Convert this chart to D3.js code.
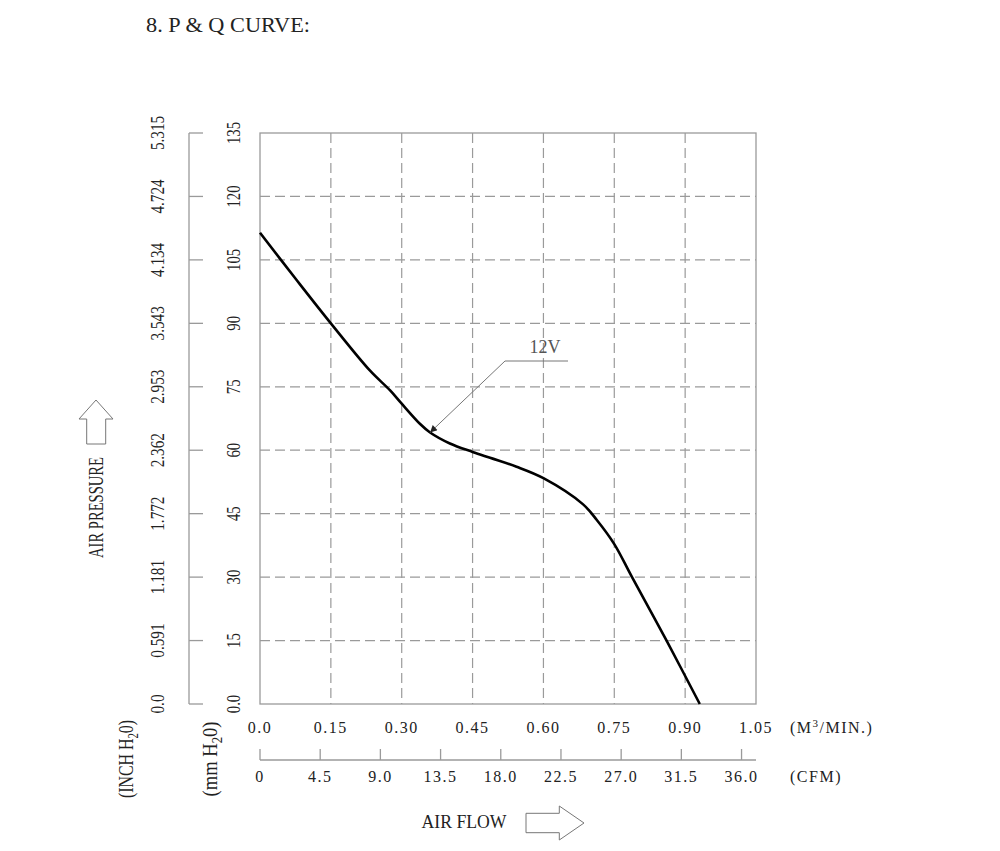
<!DOCTYPE html>
<html>
<head>
<meta charset="utf-8">
<script src="https://cdn.jsdelivr.net/npm/d3@7"></script>
<style>
  html, body { margin: 0; padding: 0; background: #fff; }
  svg { display: block; }
  text { font-family: "Liberation Serif", "DejaVu Serif", serif; fill: #222; }
</style>
</head>
<body>
<svg id="chart" width="1000" height="851"></svg>
<script>
// ---- data ----
const flowM3 = [0, 0.075, 0.15, 0.233, 0.275, 0.30, 0.339, 0.36, 0.402, 0.45, 0.487, 0.543, 0.60, 0.684, 0.713, 0.75, 0.787, 0.861, 0.931];
const pressureMm = [111.4, 100.6, 90, 78.8, 74.2, 71.0, 66.2, 64.2, 61.6, 59.6, 58.2, 56.1, 53.4, 47.2, 43.5, 37.8, 30.1, 14.9, 0];
const mmTicks = [0, 15, 30, 45, 60, 75, 90, 105, 120, 135];
const mmLabels = ["0.0", "15", "30", "45", "60", "75", "90", "105", "120", "135"];
const inchLabels = ["0.0", "0.591", "1.181", "1.772", "2.362", "2.953", "3.543", "4.134", "4.724", "5.315"];
const m3Ticks = [0, 0.15, 0.30, 0.45, 0.60, 0.75, 0.90, 1.05];
const m3Labels = ["0.0", "0.15", "0.30", "0.45", "0.60", "0.75", "0.90", "1.05"];
const cfmTicks = [0, 4.5, 9.0, 13.5, 18.0, 22.5, 27.0, 31.5, 36.0];
const cfmLabels = ["0", "4.5", "9.0", "13.5", "18.0", "22.5", "27.0", "31.5", "36.0"];
const seriesName = "12V";
const titleText = "8. P & Q CURVE:";

// ---- scales ----
const svg = d3.select("#chart");
const x = d3.scaleLinear().domain([0, 1.05]).range([260, 756]);
const y = d3.scaleLinear().domain([0, 135]).range([704, 133]);
const cfm = d3.scaleLinear().domain([0, 1.05 * 35.3147]).range([260, 756]);
const gridCol = "#9a9a9a";

// title
svg.append("text").attr("x", 146).attr("y", 31.5)
  .attr("font-size", 21).attr("textLength", 164).attr("lengthAdjust", "spacingAndGlyphs")
  .text(titleText);

// grid
const grid = svg.append("g");
grid.selectAll("line.h").data(mmTicks.slice(1, -1)).join("line")
  .attr("x1", x(0)).attr("x2", x(1.05)).attr("y1", d => y(d)).attr("y2", d => y(d))
  .attr("stroke", gridCol).attr("stroke-width", 1.2).attr("stroke-dasharray", "10,5");
grid.selectAll("line.v").data(m3Ticks.slice(1, -1)).join("line")
  .attr("y1", y(135)).attr("y2", y(0)).attr("x1", d => x(d)).attr("x2", d => x(d))
  .attr("stroke", gridCol).attr("stroke-width", 1.2).attr("stroke-dasharray", "10,5");

// frame
svg.append("rect").attr("x", x(0)).attr("y", y(135))
  .attr("width", x(1.05) - x(0)).attr("height", y(0) - y(135))
  .attr("fill", "none").attr("stroke", gridCol).attr("stroke-width", 1.3);

// inch axis
const inchX = 189;
svg.append("line").attr("x1", inchX).attr("x2", inchX).attr("y1", y(135)).attr("y2", y(0))
  .attr("stroke", gridCol).attr("stroke-width", 1.3);
svg.selectAll("line.itick").data(mmTicks).join("line")
  .attr("x1", inchX).attr("x2", inchX + 14).attr("y1", d => y(d)).attr("y2", d => y(d))
  .attr("stroke", gridCol).attr("stroke-width", 1.3);

// y tick labels (rotated)
svg.selectAll("text.mm").data(mmTicks).join("text")
  .attr("transform", d => `translate(239.5,${y(d)}) rotate(-90) scale(0.78,1)`)
  .attr("text-anchor", "middle").attr("font-size", 19)
  .text((d, i) => mmLabels[i]);
svg.selectAll("text.inch").data(mmTicks).join("text")
  .attr("transform", d => `translate(163.5,${y(d)}) rotate(-90) scale(0.8,1)`)
  .attr("text-anchor", "middle").attr("font-size", 19)
  .text((d, i) => inchLabels[i]);

// m3 labels
svg.selectAll("text.m3").data(m3Ticks).join("text")
  .attr("x", d => x(d)).attr("y", 733)
  .attr("text-anchor", "middle").attr("font-size", 16).attr("letter-spacing", 1.5)
  .text((d, i) => m3Labels[i]);
const m3u = svg.append("text").attr("x", 790).attr("y", 733).attr("font-size", 16).attr("letter-spacing", 1.5);
m3u.append("tspan").text("(M");
m3u.append("tspan").attr("font-size", 11).attr("dy", -6).text("3");
m3u.append("tspan").attr("dy", 6).text("/MIN.)");

// CFM axis
const cfmY = 760;
svg.append("line").attr("x1", cfm(0)).attr("x2", 756).attr("y1", cfmY).attr("y2", cfmY)
  .attr("stroke", gridCol).attr("stroke-width", 1.3);
svg.selectAll("line.ctick").data(cfmTicks).join("line")
  .attr("x1", d => cfm(d)).attr("x2", d => cfm(d)).attr("y1", cfmY - 11).attr("y2", cfmY)
  .attr("stroke", gridCol).attr("stroke-width", 1.3);
svg.selectAll("text.cfm").data(cfmTicks).join("text")
  .attr("x", d => cfm(d)).attr("y", 781.5)
  .attr("text-anchor", "middle").attr("font-size", 16).attr("letter-spacing", 1.5)
  .text((d, i) => cfmLabels[i]);
svg.append("text").attr("x", 790).attr("y", 781.5).attr("font-size", 16).attr("letter-spacing", 1.5).text("(CFM)");

// unit labels (rotated)
function subLabel(tx, ty, pre, sub, post, len) {
  const t = svg.append("text")
    .attr("transform", `translate(${tx},${ty}) rotate(-90)`)
    .attr("text-anchor", "middle").attr("font-size", 22)
    .attr("textLength", len).attr("lengthAdjust", "spacingAndGlyphs");
  t.append("tspan").text(pre);
  t.append("tspan").attr("font-size", 15).attr("dy", 5).text(sub);
  t.append("tspan").attr("dy", -5).text(post);
}
subLabel(132.5, 759, "(INCH H", "2", "0)", 78);
subLabel(216.5, 759, "(mm H", "2", "0)", 75);

// AIR PRESSURE + arrow
svg.append("text").attr("transform", "translate(103,507.5) rotate(-90)")
  .attr("text-anchor", "middle").attr("font-size", 21)
  .attr("textLength", 101).attr("lengthAdjust", "spacingAndGlyphs").text("AIR PRESSURE");
svg.append("path")
  .attr("d", "M86.7,444 L86.7,419 L79,419 L96,400 L113,419 L105.7,419 L105.7,444 Z")
  .attr("fill", "none").attr("stroke", "#777").attr("stroke-width", 1);

// AIR FLOW + arrow
svg.append("text").attr("x", 421.5).attr("y", 828).attr("font-size", 18)
  .attr("textLength", 85).attr("lengthAdjust", "spacingAndGlyphs").text("AIR  FLOW");
svg.append("path")
  .attr("d", "M526,813.3 L559.3,813.3 L559.3,806 L584,823 L559.3,840 L559.3,832.7 L526,832.7 Z")
  .attr("fill", "none").attr("stroke", "#777").attr("stroke-width", 1);

// curve
const pts = flowM3.map((f, i) => [f, pressureMm[i]]);
const line = d3.line().x(d => x(d[0])).y(d => y(d[1])).curve(d3.curveCatmullRom.alpha(0.5));
svg.append("path").datum(pts).attr("d", line)
  .attr("fill", "none").attr("stroke", "#000").attr("stroke-width", 2.6).attr("stroke-linejoin", "round");

// leader with arrow
svg.append("defs").append("marker").attr("id", "ah")
  .attr("viewBox", "0 0 10 10").attr("refX", 10).attr("refY", 5)
  .attr("markerWidth", 11).attr("markerHeight", 7).attr("markerUnits", "userSpaceOnUse")
  .attr("orient", "auto")
  .append("path").attr("d", "M0,0 L10,5 L0,10 Z").attr("fill", "#222");
const tip = [x(0.36), y(64.2)];
svg.append("polyline")
  .attr("points", `568,361 505,361 ${tip[0]},${tip[1]}`)
  .attr("fill", "none").attr("stroke", "#777").attr("stroke-width", 1)
  .attr("marker-end", "url(#ah)");
svg.append("text").attr("x", 545).attr("y", 353).attr("text-anchor", "middle")
  .attr("font-size", 19).attr("textLength", 31).attr("lengthAdjust", "spacingAndGlyphs")
  .style("fill", "#555").text(seriesName);
</script>
</body>
</html>
